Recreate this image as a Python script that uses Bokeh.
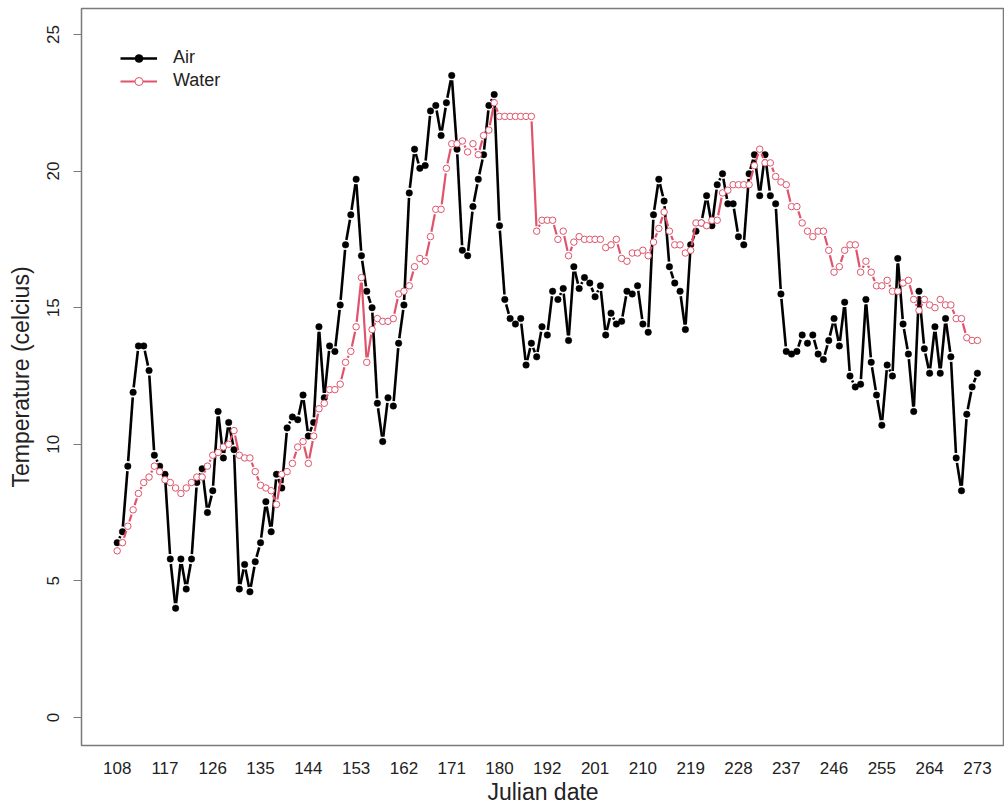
import math
from bokeh.plotting import figure
from bokeh.models import Range1d, FixedTicker, Legend, LegendItem, ColumnDataSource, Title
from bokeh.embed import file_html
from bokeh.resources import INLINE

# ---- data -------------------------------------------------------------
julian_days = list(range(108, 181)) + list(range(184, 274))
tick_days = [108, 117, 126, 135, 144, 153, 162, 171, 180, 192, 201,
             210, 219, 228, 237, 246, 255, 264, 273]

air = [6.4, 6.8, 9.2, 11.9, 13.6, 13.6, 12.7, 9.6, 9.2, 8.9,
       5.8, 4.0, 5.8, 4.7, 5.8, 8.6, 9.1, 7.5, 8.3, 11.2,
       9.5, 10.8, 9.8, 4.7, 5.6, 4.6, 5.7, 6.4,
       7.9, 6.8, 8.9, 8.4, 10.6, 11.0, 10.9, 11.8, 10.3, 10.8,
       14.3, 11.7, 13.6, 13.4, 15.1, 17.3, 18.4, 19.7, 16.9, 15.6,
       15.0, 11.5, 10.1, 11.7, 11.4, 13.7, 15.1, 19.2,
       20.8, 20.1, 20.2, 22.2, 22.4, 21.3, 22.5, 23.5, 20.8, 17.1,
       16.9, 18.7, 19.7, 20.6, 22.4, 22.8, 18.0, 15.3, 14.6, 14.4,
       14.6, 12.9, 13.7, 13.2, 14.3, 14.0, 15.6,
       15.3, 15.7, 13.8, 16.5, 15.7, 16.1, 15.9, 15.4, 15.8, 14.0,
       14.8, 14.4, 14.5, 15.6, 15.5, 15.8, 14.4, 14.1, 18.4, 19.7,
       18.9, 16.5, 15.9, 15.6, 14.2, 17.3, 17.8, 18.1, 19.1,
       18.0, 19.5, 19.9, 18.8, 18.8, 17.6, 17.3, 19.9, 20.6, 19.1,
       20.6, 19.1, 18.8, 15.5, 13.4, 13.3, 13.4, 14.0, 13.7, 14.0,
       13.3, 13.1, 13.8, 14.6, 13.6, 15.2, 12.5, 12.1,
       12.2, 15.3, 13.0, 11.8, 10.7, 12.9, 12.5, 16.8, 14.4, 13.3,
       11.2, 15.6, 13.5, 12.6, 14.3, 12.6, 14.6, 13.2, 9.5, 8.3,
       11.1, 12.1, 12.6]

water = [6.1, 6.4, 7.0, 7.6, 8.2, 8.6, 8.8, 9.2, 9.0, 8.7,
         8.6, 8.4, 8.2, 8.4, 8.6, 8.8, 8.8, 9.2, 9.6, 9.7,
         9.9, 10.0, 10.5, 9.6, 9.5, 9.5, 9.0, 8.5,
         8.4, 8.3, 7.8, 8.9, 9.0, 9.3, 9.9, 10.1, 9.3, 10.3,
         11.3, 11.5, 12.0, 12.0, 12.2, 13.0, 13.4, 14.3, 16.1, 13.0,
         14.2, 14.6, 14.5, 14.5, 14.6, 15.5, 15.6, 15.8,
         16.5, 16.8, 16.7, 17.6, 18.6, 18.6, 20.1, 21.0, 21.0, 21.1,
         20.7, 21.0, 20.6, 21.3, 21.5, 22.5, 22.0, 22.0, 22.0, 22.0,
         22.0, 22.0, 22.0, 17.8, 18.2, 18.2, 18.2,
         17.5, 17.8, 16.9, 17.4, 17.6, 17.5, 17.5, 17.5, 17.5, 17.2,
         17.3, 17.5, 16.8, 16.7, 17.0, 17.0, 17.1, 16.9, 17.4, 17.9,
         18.5, 17.8, 17.3, 17.3, 17.0, 17.1, 18.1, 18.1, 18.0,
         18.2, 18.2, 19.2, 19.3, 19.5, 19.5, 19.5, 19.5, 20.2, 20.8,
         20.3, 20.3, 19.8, 19.6, 19.5, 18.7, 18.7, 18.1, 17.8, 17.6,
         17.8, 17.8, 17.1, 16.3, 16.5, 17.1, 17.3, 17.3,
         16.3, 16.7, 16.3, 15.8, 15.8, 16.0, 15.6, 15.6, 15.9, 16.0,
         15.3, 14.9, 15.3, 15.1, 15.0, 15.3, 15.1, 15.1, 14.6, 14.6,
         13.9, 13.8, 13.8]

x_title = "Julian date"
y_title = "Temperature (celcius)"

idx = list(range(len(julian_days)))

# ---- layout -----------------------------------------------------------
X0, X1 = -6.72, 167.1
Y0, Y1 = -1.025, 25.95
W, H = 1004, 807
BL, BR, BT, BB = 81, 0, 8, 62
FW, FH = W - BL - BR, H - BT - BB
SX, SY = FW / (X1 - X0), FH / (Y1 - Y0)
GAP = 5.0  # px gap around each point (R type="b")


def gapped(xs, ys):
    x0s, y0s, x1s, y1s = [], [], [], []
    for i in range(len(xs) - 1):
        dx = (xs[i + 1] - xs[i]) * SX
        dy = (ys[i + 1] - ys[i]) * SY
        L = math.hypot(dx, dy)
        if L <= 2 * GAP:
            continue
        t = GAP / L
        x0s.append(xs[i] + t * (xs[i + 1] - xs[i]))
        y0s.append(ys[i] + t * (ys[i + 1] - ys[i]))
        x1s.append(xs[i + 1] - t * (xs[i + 1] - xs[i]))
        y1s.append(ys[i + 1] - t * (ys[i + 1] - ys[i]))
    return dict(x0=x0s, y0=y0s, x1=x1s, y1=y1s)


FONT = "Liberation Sans"
TXT = "#222222"
BOX = "#7a7a7a"

p = figure(width=W, height=H, x_range=Range1d(X0, X1), y_range=Range1d(Y0, Y1),
           output_backend="svg", toolbar_location=None,
           min_border_left=BL, min_border_right=BR, min_border_top=BT,
           min_border_bottom=BB)
p.grid.visible = False
p.outline_line_color = BOX
p.outline_line_width = 1.5
p.background_fill_color = "white"
p.border_fill_color = "white"

AIR_C = "black"
WAT_C = "#DF536B"

air_seg = p.segment(x0="x0", y0="y0", x1="x1", y1="y1",
                    source=ColumnDataSource(gapped(idx, air)),
                    line_color=AIR_C, line_width=2.6)
air_pts = p.scatter(idx, air, marker="circle", size=6.5, fill_color=AIR_C,
                    line_color=AIR_C, line_width=0.5)
wat_seg = p.segment(x0="x0", y0="y0", x1="x1", y1="y1",
                    source=ColumnDataSource(gapped(idx, water)),
                    line_color=WAT_C, line_width=2.2)
wat_pts = p.scatter(idx, water, marker="circle", size=6.5, fill_color="white",
                    line_color=WAT_C, line_width=1.0)

# x axis: labels only (box acts as the line)
xa = p.xaxis[0]
tick_idx = [i for i, d in enumerate(julian_days) if d in tick_days]
xa.ticker = FixedTicker(ticks=tick_idx)
xa.major_label_overrides = {i: str(julian_days[i]) for i in tick_idx}
xa.axis_line_color = None
xa.major_tick_line_color = None
xa.minor_tick_line_color = None
xa.major_tick_out = 0
xa.major_tick_in = 0
xa.major_label_standoff = 16
xa.major_label_text_font = FONT
xa.major_label_text_font_size = "17px"
xa.major_label_text_color = TXT

# x-axis title as a title panel below the axis
p.add_layout(Title(text=x_title, align="center", standoff=0, offset=0,
                   text_font=FONT, text_font_size="23px",
                   text_font_style="normal", text_color=TXT), "below")

ya = p.yaxis[0]
ya.ticker = FixedTicker(ticks=[0, 5, 10, 15, 20, 25])
ya.axis_line_color = None
ya.major_tick_line_color = BOX
ya.major_tick_line_width = 1.2
ya.major_tick_out = 8
ya.major_tick_in = 0
ya.minor_tick_line_color = None
ya.major_label_orientation = "vertical"
ya.major_label_standoff = 14
ya.major_label_text_font = FONT
ya.major_label_text_font_size = "17px"
ya.major_label_text_color = TXT
ya.axis_label = y_title
ya.axis_label_text_font = FONT
ya.axis_label_text_font_size = "23px"
ya.axis_label_text_font_style = "normal"
ya.axis_label_text_color = TXT
ya.axis_label_standoff = 11

legend = Legend(items=[LegendItem(label="Air", renderers=[air_seg, air_pts]),
                       LegendItem(label="Water", renderers=[wat_seg, wat_pts])],
                location="top_left", margin=39, padding=10,
                glyph_width=37, glyph_height=20, label_height=20,
                label_standoff=16, spacing=2,
                label_text_font=FONT, label_text_font_size="18px",
                label_text_color=TXT, border_line_color=None,
                background_fill_alpha=0)
p.add_layout(legend)

open("out.html", "w").write(file_html(p, INLINE))
